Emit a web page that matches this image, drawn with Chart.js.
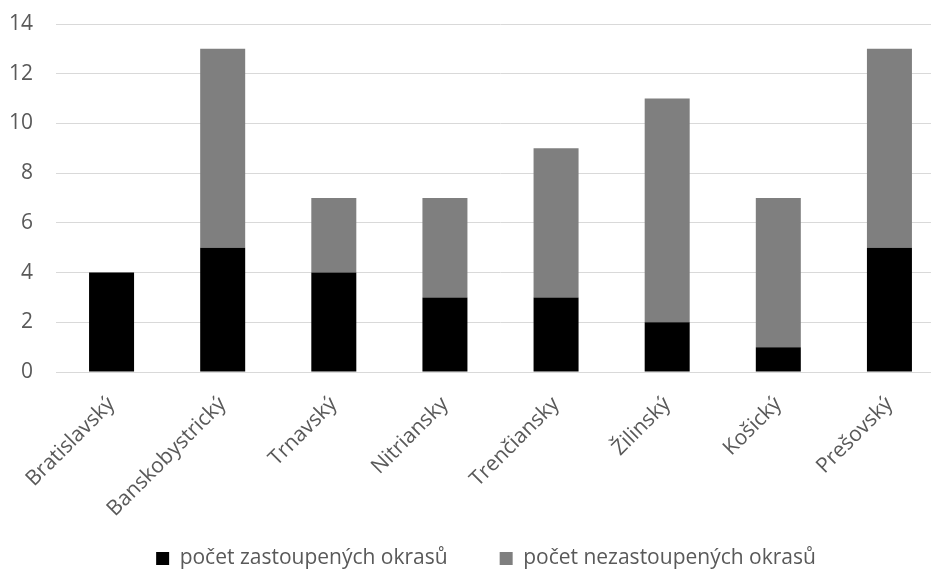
<!DOCTYPE html>
<html>
<head>
<meta charset="utf-8">
<script src="https://cdn.jsdelivr.net/npm/chart.js@4/dist/chart.umd.min.js"></script>
<style>
  html, body { margin: 0; padding: 0; background: #fff; overflow: hidden; }
  #wrap { width: 972px; height: 579px; }
</style>
</head>
<body>
<div id="wrap"><canvas id="graf" width="972" height="579"></canvas></div>
<script>
const kraje = ['Bratislavský', 'Banskobystrický', 'Trnavský', 'Nitriansky', 'Trenčiansky', 'Žilinský', 'Košický', 'Prešovský'];
const zastoupene = [4, 5, 4, 3, 3, 2, 1, 5];
const nezastoupene = [0, 8, 3, 4, 6, 9, 6, 8];
const yTicky = [0, 2, 4, 6, 8, 10, 12, 14];

const pismo = { family: '"Open Sans", Lato, sans-serif', size: 21 };
const sedaText = '#595959';

// popisky osí nechceme ořezávat na plochu osy
const bezOrezu = () => undefined;

new Chart(document.getElementById('graf').getContext('2d'), {
  type: 'bar',
  data: {
    labels: kraje,
    datasets: [
      {
        label: 'počet zastoupených okrasů',
        data: zastoupene,
        backgroundColor: '#000000',
        borderWidth: 0
      },
      {
        label: 'počet nezastoupených okrasů',
        data: nezastoupene,
        backgroundColor: '#7f7f7f',
        borderWidth: 0
      }
    ]
  },
  options: {
    responsive: false,
    animation: false,
    categoryPercentage: 1,
    barPercentage: 0.405,
    layout: { padding: { top: 24, right: 27, left: 27, bottom: 0 } },
    plugins: {
      legend: {
        position: 'bottom',
        labels: {
          font: pismo,
          color: sedaText,
          boxWidth: 13,
          boxHeight: 13,
          padding: 52
        }
      },
      tooltip: { enabled: false }
    },
    scales: {
      x: {
        stacked: true,
        afterFit: ax => {
          ax.height = 124;
          ax.paddingLeft = 0;
          ax.paddingRight = 0;
          ax._computeLabelArea = bezOrezu;
        },
        grid: { display: false, drawTicks: false },
        border: { display: true, color: '#d9d9d9', width: 1 },
        ticks: {
          font: pismo,
          color: sedaText,
          minRotation: 45,
          maxRotation: 45,
          padding: 20
        }
      },
      y: {
        stacked: true,
        min: 0,
        max: 14,
        afterBuildTicks: ax => { ax.ticks = yTicky.map(v => ({ value: v })); },
        afterFit: ax => {
          ax.width = 29;
          ax.paddingTop = 0;
          ax.paddingBottom = 0;
          ax._computeLabelArea = bezOrezu;
        },
        grid: { color: '#d9d9d9', lineWidth: 1, drawTicks: false },
        border: { display: false },
        ticks: {
          font: pismo,
          color: sedaText,
          padding: 23
        }
      }
    }
  }
});
</script>
</body>
</html>
